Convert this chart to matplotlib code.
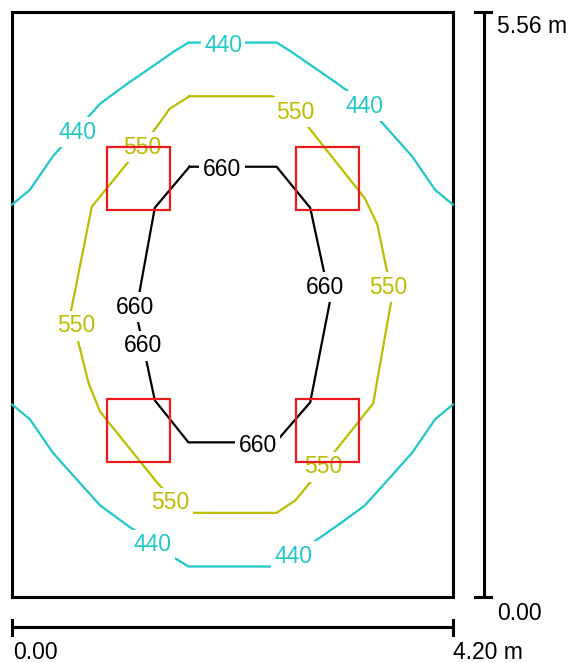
import matplotlib
matplotlib.use("Agg")
import matplotlib.pyplot as plt
from matplotlib.patches import Rectangle

plt.rcParams['font.family'] = ['Liberation Sans', 'DejaVu Sans']

# room size in metres
ROOM_W = 4.20
ROOM_H = 5.56

# luminaire centres (m), square 0.60 m panels
lum_x = [1.20, 3.00, 1.20, 3.00]
lum_y = [3.98, 3.98, 1.58, 1.58]
LUM_SIZE = 0.60

iso440_top_x = [0.00, 0.17, 0.39, 0.65, 0.84, 1.10, 1.55, 1.68, 2.52, 2.65, 3.10, 3.36, 3.55, 3.81, 4.03, 4.20]
iso440_top_y = [3.73, 3.87, 4.19, 4.48, 4.69, 4.88, 5.19, 5.27, 5.27, 5.19, 4.88, 4.69, 4.48, 4.19, 3.87, 3.73]
iso440_bot_x = [0.00, 0.17, 0.39, 0.65, 0.84, 1.10, 1.55, 1.68, 2.52, 2.65, 3.10, 3.36, 3.55, 3.81, 4.03, 4.20]
iso440_bot_y = [1.83, 1.69, 1.37, 1.08, 0.87, 0.68, 0.37, 0.29, 0.29, 0.37, 0.68, 0.87, 1.08, 1.37, 1.69, 1.83]

iso550_x = [1.69, 2.48, 2.63, 2.82, 3.36, 3.48, 3.62, 3.44, 2.84, 2.70, 2.52, 1.72, 1.57, 1.38, 0.84, 0.73, 0.56, 0.76, 1.38, 1.50, 1.69]
iso550_y = [4.76, 4.76, 4.68, 4.47, 3.79, 3.54, 2.86, 1.84, 1.09, 0.92, 0.80, 0.80, 0.88, 1.09, 1.76, 2.03, 2.71, 3.71, 4.47, 4.64, 4.76]

iso660_x = [1.69, 2.52, 2.84, 3.03, 2.84, 2.51, 1.68, 1.36, 1.18, 1.36, 1.69]
iso660_y = [4.09, 4.09, 3.70, 2.82, 1.85, 1.47, 1.47, 1.87, 2.71, 3.70, 4.09]

# where the value labels sit on each line
lab440 = [(0.62, 4.44), (2.01, 5.27), (3.36, 4.69), (1.34, 0.52), (2.68, 0.41)]
lab550 = [(1.24, 4.30), (2.70, 4.63), (0.61, 2.60), (3.58, 2.97), (1.51, 0.92), (2.96, 1.26)]
lab660 = [(2.00, 4.09), (2.98, 2.97), (1.17, 2.78), (1.25, 2.41), (2.34, 1.46)]

C440 = '#1fc8c8'
C550 = '#bcbc00'
C660 = 'black'
RED = '#e81c1c'
FS = 16.5

fig = plt.figure(figsize=(5.73, 6.63), dpi=100)
ax = fig.add_axes([0, 0, 1, 1])
ax.set_xlim(-12 / 105, 561 / 105)
ax.set_ylim(-66 / 105.2, 597 / 105.2)
ax.axis('off')

# room outline
ax.add_patch(Rectangle((0, 0), ROOM_W, ROOM_H, fill=False, lw=2.2, ec='black', zorder=2))

# isolines
ax.plot(iso440_top_x, iso440_top_y, color=C440, lw=1.6, zorder=3)
ax.plot(iso440_bot_x, iso440_bot_y, color=C440, lw=1.6, zorder=3)
ax.plot(iso550_x, iso550_y, color=C550, lw=1.6, zorder=3)
ax.plot(iso660_x, iso660_y, color=C660, lw=1.6, zorder=3)

for val, col, pts in [(440, C440, lab440), (550, C550, lab550), (660, C660, lab660)]:
    for (lx, ly) in pts:
        ax.text(lx, ly, str(val), color=col, fontsize=FS, ha='center', va='center_baseline',
                zorder=4, bbox=dict(boxstyle='square,pad=0.15', fc='white', ec='none'))

# luminaires
for cx, cy in zip(lum_x, lum_y):
    ax.add_patch(Rectangle((cx - LUM_SIZE / 2, cy - LUM_SIZE / 2), LUM_SIZE, LUM_SIZE,
                           fill=False, ec=RED, lw=1.6, zorder=5))

# scale bars
bx = 4.495
ax.plot([bx, bx], [0, ROOM_H], color='black', lw=2.2, solid_capstyle='butt')
ax.plot([4.41, 4.56], [ROOM_H, ROOM_H], color='black', lw=2.2)
ax.plot([4.41, 4.56], [0, 0], color='black', lw=2.2)
by = -0.285
ax.plot([0, ROOM_W], [by, by], color='black', lw=2.2, solid_capstyle='butt')
ax.plot([0, 0], [-0.215, -0.36], color='black', lw=2.2)
ax.plot([ROOM_W, ROOM_W], [-0.215, -0.36], color='black', lw=2.2)

ax.text(4.62, 5.36, '%.2f m' % ROOM_H, fontsize=FS, ha='left', va='baseline')
ax.text(4.62, -0.219, '0.00', fontsize=FS, ha='left', va='baseline')
ax.text(0.01, -0.59, '0.00', fontsize=FS, ha='left', va='baseline')
ax.text(ROOM_W, -0.59, '%.2f m' % ROOM_W, fontsize=FS, ha='left', va='baseline')

fig.savefig('out.png', dpi=100)
